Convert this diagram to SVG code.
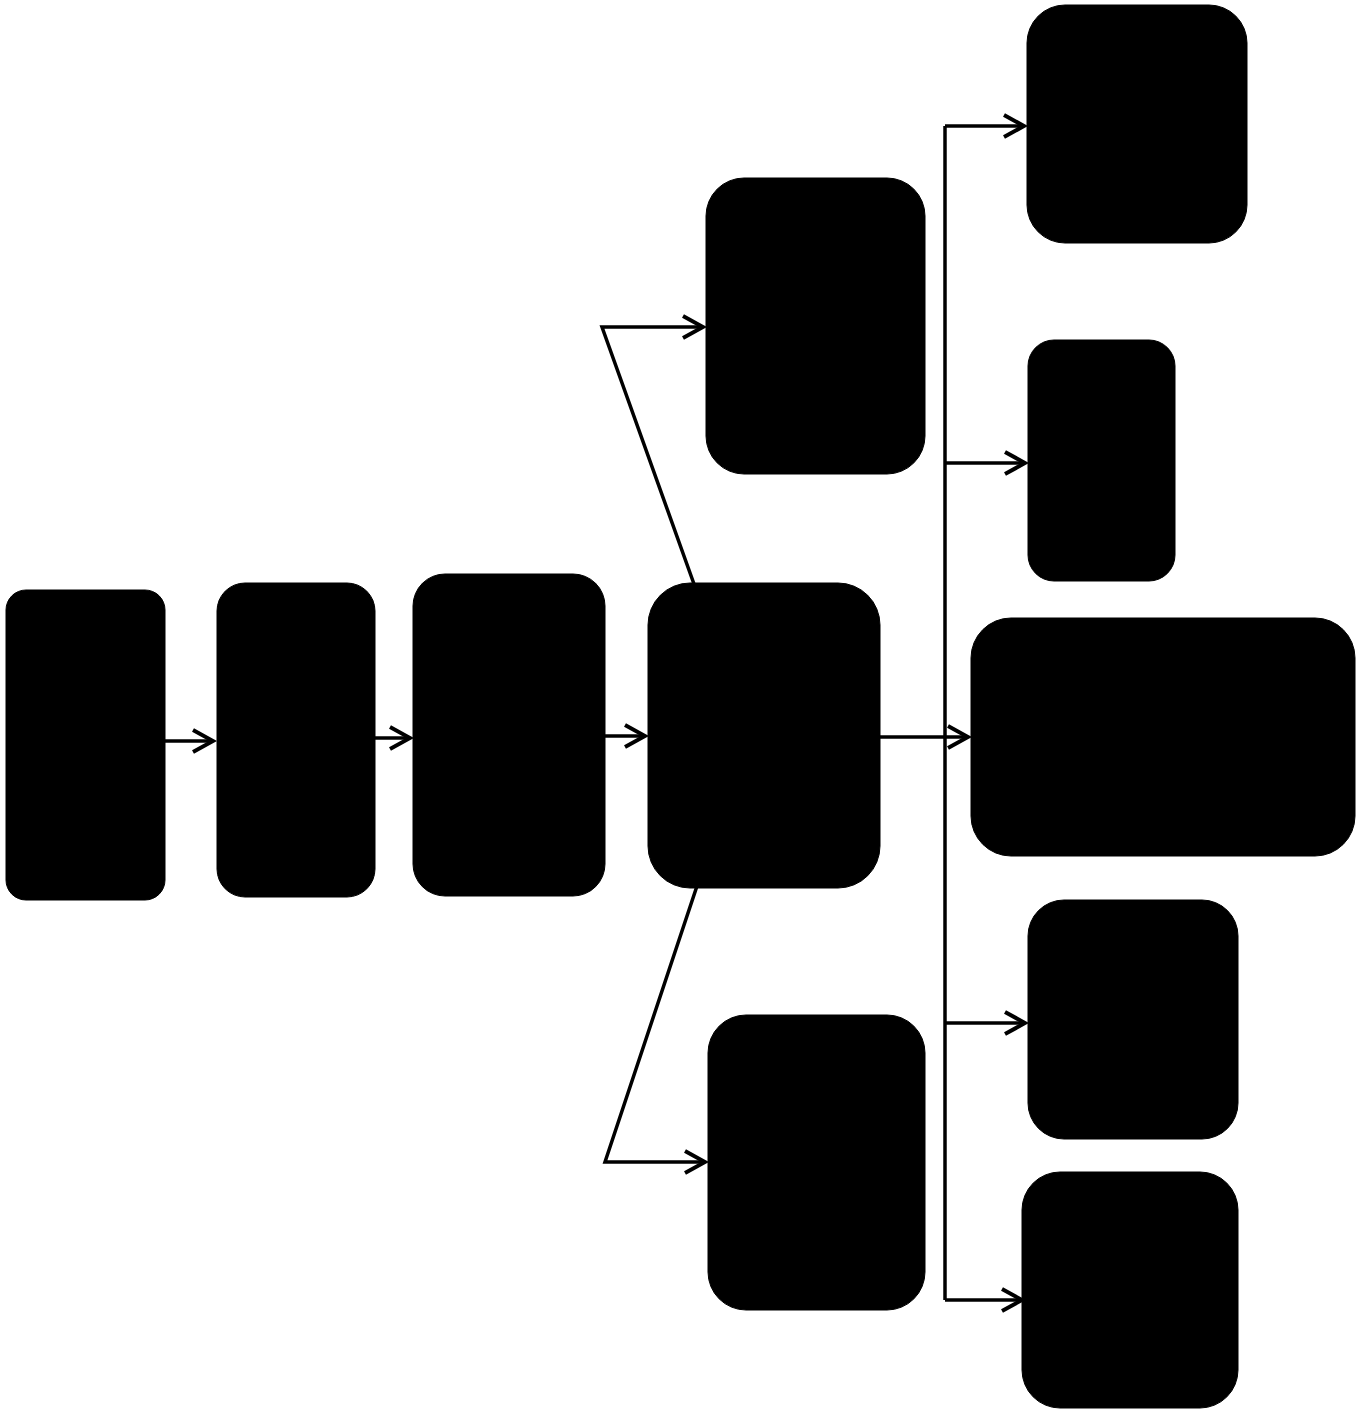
<svg xmlns="http://www.w3.org/2000/svg" width="1362" height="1411" viewBox="0 0 1362 1411">
<defs>
<style>
.node{fill:#000;stroke:#000;stroke-width:1}
.conn{fill:none;stroke:#000;stroke-width:3.5;stroke-linejoin:miter}
</style>
<marker id="arr" markerUnits="userSpaceOnUse" markerWidth="26" markerHeight="28" refX="22" refY="14" orient="auto" viewBox="0 0 26 28">
<path d="M2,3 L22,14 L2,25" fill="none" stroke="#000" stroke-width="4"/>
</marker>
</defs>
<rect width="1362" height="1411" fill="#fff"/>
<g id="connectors">
<path class="conn" d="M165,741 H213" marker-end="url(#arr)"/>
<path class="conn" d="M375,738 H410" marker-end="url(#arr)"/>
<path class="conn" d="M605,736 H645" marker-end="url(#arr)"/>
<path class="conn" d="M694,584 L602,327 H703" marker-end="url(#arr)"/>
<path class="conn" d="M697,886 L605,1162 H705" marker-end="url(#arr)"/>
<path class="conn" d="M880,737 H968" marker-end="url(#arr)"/>
<path class="conn" d="M945,126 V1300"/>
<path class="conn" d="M945,126 H1024" marker-end="url(#arr)"/>
<path class="conn" d="M945,463 H1025" marker-end="url(#arr)"/>
<path class="conn" d="M945,1023 H1025" marker-end="url(#arr)"/>
<path class="conn" d="M945,1300 H1022" marker-end="url(#arr)"/>
</g>
<g id="n1"><rect class="node" x="6" y="590" width="159" height="310" rx="20"/></g>
<g id="n2"><rect class="node" x="217" y="583" width="158" height="314" rx="28"/></g>
<g id="n3"><rect class="node" x="413" y="574" width="192" height="322" rx="32"/></g>
<g id="n4"><rect class="node" x="648" y="583" width="232" height="305" rx="42"/></g>
<g id="n5"><rect class="node" x="706" y="178" width="219" height="296" rx="38"/></g>
<g id="n6"><rect class="node" x="708" y="1015" width="217" height="295" rx="38"/></g>
<g id="n7"><rect class="node" x="1027" y="5" width="220" height="238" rx="38"/></g>
<g id="n8"><rect class="node" x="1028" y="340" width="147" height="241" rx="26"/></g>
<g id="n9"><rect class="node" x="971" y="618" width="384" height="238" rx="40"/></g>
<g id="n10"><rect class="node" x="1028" y="900" width="210" height="239" rx="36"/></g>
<g id="n11"><rect class="node" x="1022" y="1172" width="216" height="236" rx="38"/></g>
</svg>
